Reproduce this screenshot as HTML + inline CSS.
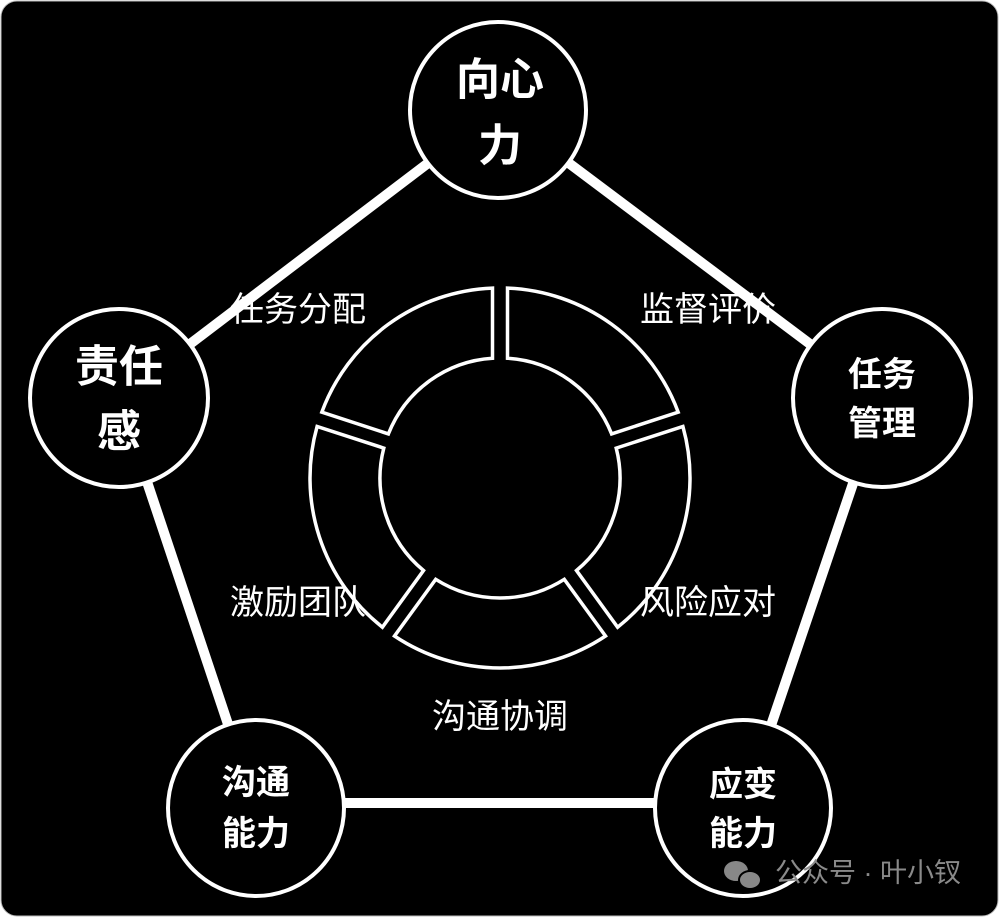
<!DOCTYPE html>
<html><head><meta charset="utf-8"><style>
html,body{margin:0;padding:0;background:#fff;}
svg{display:block;}
text{font-family:"Liberation Sans","Noto Sans CJK SC",sans-serif;fill:#fff;text-anchor:middle;dominant-baseline:central;}
.b{font-weight:bold;}
</style></head><body>
<svg id="s" width="1000" height="919" viewBox="0 0 1000 919" xmlns="http://www.w3.org/2000/svg">
<rect x="1" y="1" width="997" height="915" rx="16" fill="#000" stroke="#bbb" stroke-width="1"/>
<g stroke="#fff" stroke-width="10" stroke-linecap="butt">
<line x1="498" y1="110" x2="882" y2="398"/>
<line x1="882" y1="398" x2="743" y2="808"/>
<line x1="743" y1="803" x2="256" y2="803"/>
<line x1="256" y1="808" x2="119" y2="398"/>
<line x1="119" y1="398" x2="498" y2="110"/>
</g>
<g fill="#000" stroke="#fff" stroke-width="4">
<circle cx="498" cy="110" r="88"/>
<circle cx="119" cy="398" r="89"/>
<circle cx="882" cy="398" r="89"/>
<circle cx="743" cy="808" r="88"/>
<circle cx="256" cy="808" r="88"/>
</g>
<g fill="none" stroke="#fff" stroke-width="3.5" stroke-linejoin="miter">
<path d="M 507.5 288.1 A 190 190 0 0 1 678.2 412.2 L 611.6 433.9 A 120 120 0 0 0 507.5 358.2 Z"/>
<path d="M 682.9 426.5 A 190 190 0 0 1 617.6 627.2 L 576.5 570.5 A 120 120 0 0 0 616.2 448.1 Z"/>
<path d="M 605.5 636.0 A 190 190 0 0 1 394.5 636.0 L 435.7 579.3 A 120 120 0 0 0 564.3 579.3 Z"/>
<path d="M 382.4 627.2 A 190 190 0 0 1 317.1 426.5 L 383.8 448.1 A 120 120 0 0 0 423.5 570.5 Z"/>
<path d="M 321.8 412.2 A 190 190 0 0 1 492.5 288.1 L 492.5 358.2 A 120 120 0 0 0 388.4 433.9 Z"/>
</g>
<g font-size="34">
<text x="298" y="310">任务分配</text>
<text x="708" y="310">监督评价</text>
<text x="298" y="603">激励团队</text>
<text x="708" y="603">风险应对</text>
<text x="500" y="717">沟通协调</text>
</g>
<g class="b">
<text class="b" x="500" y="80" font-size="44">向心</text>
<text class="b" x="500" y="146" font-size="44">力</text>
<text class="b" x="119" y="367" font-size="44">责任</text>
<text class="b" x="119" y="432" font-size="44">感</text>
<text class="b" x="882" y="375" font-size="34">任务</text>
<text class="b" x="882" y="424" font-size="34">管理</text>
<text class="b" x="743" y="785" font-size="34">应变</text>
<text class="b" x="743" y="834" font-size="34">能力</text>
<text class="b" x="256" y="783" font-size="34">沟通</text>
<text class="b" x="256" y="834" font-size="34">能力</text>
</g>
<g fill="#888">
<ellipse cx="736" cy="871" rx="12" ry="10"/>
<ellipse cx="750" cy="880" rx="11" ry="9" stroke="#000" stroke-width="2"/>
</g>
<text x="868" y="873" font-size="27" style="fill:#8a8a8a">公众号 · 叶小钗</text>
</svg>
</body></html>
